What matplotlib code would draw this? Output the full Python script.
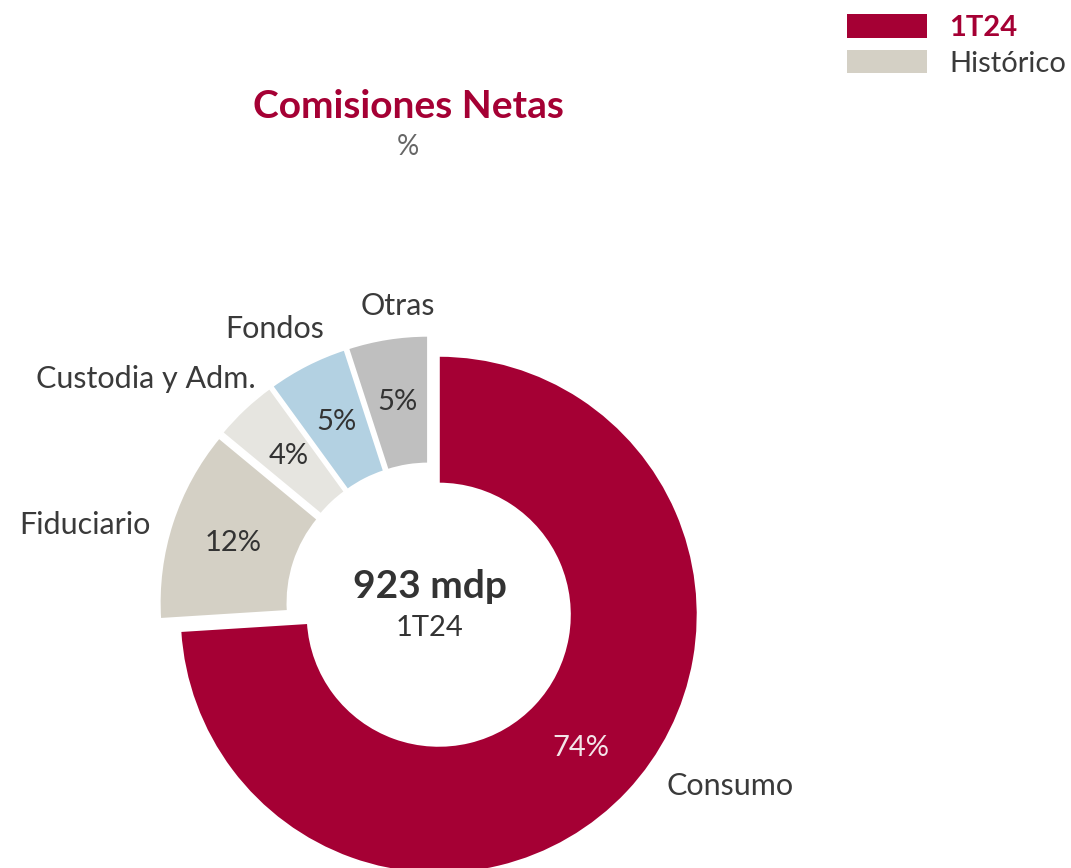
import matplotlib
matplotlib.use('Agg')
import numpy as np
import matplotlib.pyplot as plt
from matplotlib.patches import Patch

plt.rcParams['font.family'] = ['Lato', 'DejaVu Sans']

categories = ['Consumo', 'Fiduciario', 'Custodia y Adm.', 'Fondos', 'Otras']
shares = [74, 12, 4, 5, 5]
slice_colors = ['#A50034', '#D4D0C5', '#E6E5E0', '#B3D1E2', '#BFBFBF']
pct_colors = ['#F3E4E8', '#333333', '#333333', '#333333', '#333333']
legend_labels = ['1T24', 'Histórico']
legend_colors = ['#A50034', '#D4D0C5']
total_label = '923 mdp'
period_label = '1T24'

CRIMSON = '#A50034'
DARK = '#333333'

fig = plt.figure(figsize=(10.71, 8.68), dpi=100)
ax = fig.add_axes([0, 0, 1, 1])

R = 259
cx, cy = 430, 868 - 606.5
wedges, _ = ax.pie(shares, colors=slice_colors, startangle=90, counterclock=False,
                   radius=R, center=(cx, cy), explode=[12] * len(shares),
                   wedgeprops=dict(width=128, edgecolor='white', linewidth=1.5))
ax.set_xlim(0, 1071)
ax.set_ylim(0, 868)
ax.set_aspect('equal')
ax.axis('off')

# label layout: angle shift (deg), distance (x R), alignment
label_shift = [6.3, 1.7, -5.9, -6.3, -3.0]
label_dist = [1.10, 1.076, 1.06, 1.10, 1.12]
label_ha = ['left', 'right', 'right', 'right', 'center']

for i, w in enumerate(wedges):
    mid = np.deg2rad((w.theta1 + w.theta2) / 2)
    wx, wy = w.center
    pr = (R + (R - 128)) / 2
    ax.text(wx + pr * np.cos(mid), wy + pr * np.sin(mid), f'{shares[i]}%',
            ha='center', va='center', fontsize=21,
            color=pct_colors[i])
    a = mid + np.deg2rad(label_shift[i])
    d = label_dist[i] * R
    ax.text(wx + d * np.cos(a), wy + d * np.sin(a), categories[i],
            ha=label_ha[i], va='center', fontsize=22,
            color='#3A3A3A')

ax.text(cx, 868 - 587, total_label, ha='center', va='center', fontsize=28,
        fontweight='bold', color=DARK)
ax.text(cx, 868 - 628, period_label, ha='center', va='center', fontsize=21,
        color=DARK)

fig.text(408 / 1071, 1 - 107 / 868, 'Comisiones Netas', ha='center', va='center',
         fontsize=28, fontweight='bold', color=CRIMSON)
fig.text(408 / 1071, 1 - 147 / 868, '%', ha='center', va='center',
         fontsize=20, color='#666666')

handles = [Patch(facecolor=c, edgecolor='none') for c in legend_colors]
leg = fig.legend(handles, legend_labels, loc='upper right', bbox_to_anchor=(1.006, 0.997),
                 frameon=False, fontsize=21, handlelength=2.75, handleheight=0.86,
                 handletextpad=0.75, labelspacing=0.3, borderaxespad=0.0)
for t, c, wgt in zip(leg.get_texts(), [CRIMSON, '#3A3A3A'], ['bold', 'normal']):
    t.set_color(c)
    t.set_fontweight(wgt)

fig.savefig('out.png', dpi=100)
